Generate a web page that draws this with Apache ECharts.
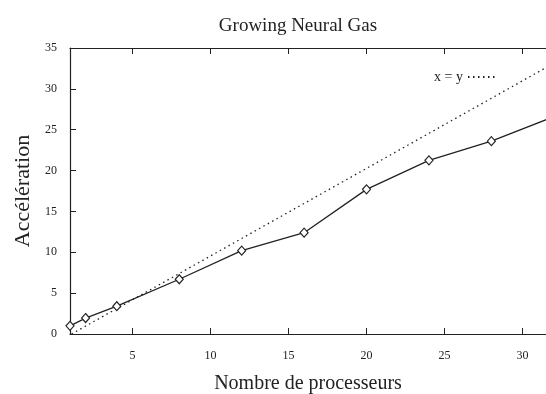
<!DOCTYPE html>
<html>
<head>
<meta charset="utf-8">
<script src="https://cdn.jsdelivr.net/npm/echarts@6/dist/echarts.min.js"></script>
<style>
  html, body { margin: 0; padding: 0; background: #fff; }
  #chart { width: 546px; height: 394px; }
</style>
</head>
<body>
<div id="chart"></div>
<script>
// nombre de processeurs et accélération mesurée
const procs = [1, 2, 4, 8, 12, 16, 20, 24, 28, 32];
const speedup = [1.0, 1.95, 3.4, 6.7, 10.2, 12.4, 17.7, 21.25, 23.6, 26.6];
// droite "x = y" telle que tracée sur la figure (extrémités lues)
const idealX = [1.1, 31.5];
const idealY = [0, 32.6];
const xTicks = [5, 10, 15, 20, 25, 30];

const serif = "Liberation Serif";
const chart = echarts.init(document.getElementById("chart"));

const option = {
  animation: false,
  title: {
    text: "Growing Neural Gas",
    left: 293,
    textAlign: "center",
    top: 12,
    textStyle: { fontFamily: serif, fontSize: 19, fontWeight: "normal", color: "#222" },
  },
  legend: {
    data: ["x = y"],
    right: 44,
    top: 65,
    align: "right",
    itemWidth: 28,
    itemHeight: 10,
    itemGap: 5,
    itemStyle: { opacity: 0 },
    textStyle: { fontFamily: serif, fontSize: 14, color: "#222", padding: [0, 0, 0, 3] },
  },
  grid: { left: 70, top: 48, right: 0, bottom: 60, outerBoundsMode: "none" },
  xAxis: [
    {
      type: "value",
      min: 1,
      max: 31.5,
      name: "Nombre de processeurs",
      nameLocation: "middle",
      nameGap: 40,
      nameTextStyle: { fontFamily: serif, fontSize: 20, color: "#222" },
      axisLine: { lineStyle: { color: "#222", width: 1.2 } },
      axisTick: { inside: true, length: 6, customValues: xTicks, lineStyle: { color: "#222" } },
      axisLabel: { customValues: xTicks, fontFamily: serif, fontSize: 12, color: "#222", margin: 16 },
      splitLine: { show: false },
    },
    {
      type: "value",
      position: "top",
      min: 1,
      max: 31.5,
      axisLine: { lineStyle: { color: "#222", width: 1.2 } },
      axisTick: { inside: true, length: 6, customValues: xTicks, lineStyle: { color: "#222" } },
      axisLabel: { show: false },
      splitLine: { show: false },
    },
  ],
  yAxis: {
    type: "value",
    min: 0,
    max: 35,
    interval: 5,
    name: "Accélération",
    nameLocation: "middle",
    nameGap: 34,
    nameTextStyle: { fontFamily: serif, fontSize: 22, color: "#222" },
    axisLine: { show: true, lineStyle: { color: "#222", width: 1.2 } },
    axisTick: { show: true, inside: true, length: 6, lineStyle: { color: "#222" } },
    axisLabel: { fontFamily: serif, fontSize: 12, color: "#222", margin: 13 },
    splitLine: { show: false },
  },
  series: [
    {
      name: "accélération",
      type: "line",
      data: procs.map((p, i) => [p, speedup[i]]),
      symbol: "diamond",
      symbolSize: [8, 9],
      itemStyle: { color: "#fff", borderColor: "#222", borderWidth: 1.2 },
      lineStyle: { color: "#222", width: 1.3 },
      clip: true,
      z: 3,
    },
    {
      name: "x = y",
      type: "line",
      data: idealX.map((v, i) => [v, idealY[i]]),
      showSymbol: false,
      symbol: "none",
      itemStyle: { color: "#222" },
      lineStyle: { color: "#222", width: 1.3, type: [1.5, 3.5] },
      clip: true,
    },
  ],
};

chart.setOption(option);
</script>
</body>
</html>
